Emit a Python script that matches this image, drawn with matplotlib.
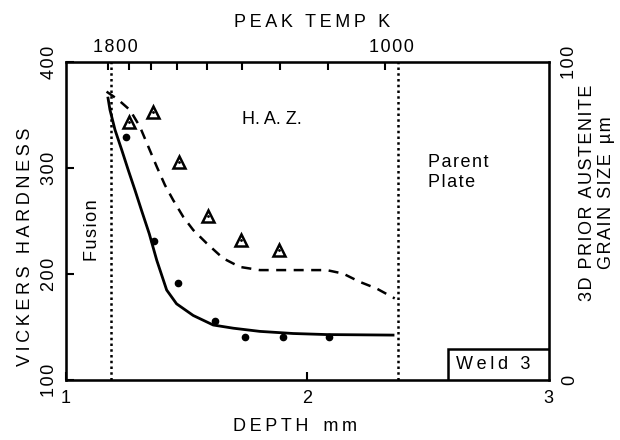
import numpy as np
import matplotlib.pyplot as plt
import matplotlib.transforms as mtransforms

plt.rcParams['font.family'] = ['Liberation Sans', 'DejaVu Sans']

# hardness (left axis)
hv_depth = [1.174, 1.182, 1.203, 1.231, 1.258, 1.286, 1.313, 1.345, 1.376, 1.417,
            1.458, 1.527, 1.610, 1.693, 1.803, 1.941, 2.080, 2.355]
hv_curve = [366, 355, 336, 317, 298, 279, 260, 238, 213, 185,
            172, 161, 152, 149, 146, 144, 143, 142.5]
hv_pts_depth = [1.247, 1.364, 1.462, 1.617, 1.741, 1.897, 2.09]
hv_pts = [329, 231, 192, 156, 141, 141, 141]

# grain size (right axis)
gs_depth = [1.168, 1.217, 1.265, 1.306, 1.341, 1.376, 1.410, 1.444, 1.486, 1.527,
            1.583, 1.651, 1.720, 1.803, 1.941, 2.080, 2.148, 2.217, 2.287, 2.362]
gs_curve = [90.7, 88.1, 84.9, 79.7, 73.4, 67.1, 61.3, 56.6, 51.3, 47.2,
            43.0, 38.3, 35.6, 34.6, 34.6, 34.6, 33.5, 30.9, 28.8, 25.7]
gs_pts_depth = [1.262, 1.362, 1.469, 1.589, 1.723, 1.883]
gs_pts = [81.3, 84.3, 68.7, 51.6, 44.2, 41.0]

# peak temperature scale (top axis)
temp_ticks = [1.174, 1.261, 1.352, 1.460, 1.584, 1.729, 1.886, 2.085, 2.321]
temp_labels = ['1800', '', '', '', '', '', '', '', '1000']

fusion_depth = 1.186
parent_depth = 2.375


def sp(s, gap='\u2009'):
    return gap.join(s)


def hs(s):
    return '\u200a'.join(s)


FS = 13
fig = plt.figure(figsize=(6.2, 4.4), dpi=100)
ax = fig.add_axes([0.1065, 0.136, 0.7785, 0.723])

ax.plot(hv_depth, hv_curve, color='black', lw=2.0)
ax.plot(hv_pts_depth, hv_pts, 'o', color='black', ms=4.5)
for d in (fusion_depth, parent_depth):
    ax.axvline(d, color='black', ls=(0, (1, 1.3)), lw=1.8)

ax.set_xlim(1, 3)
ax.set_ylim(100, 400)
ax.set_xticks([1, 2, 3])
ax.set_xticklabels(['1', '2', '3'])
ax.set_yticks([100, 200, 300, 400])
ax.set_yticklabels([hs(t) for t in ['100', '200', '300', '400']], rotation=90, va='center')
ax.tick_params(axis='x', direction='in', length=6, width=1.5, labelsize=FS, pad=7)
ax.tick_params(axis='y', direction='in', length=6, width=1.5, labelsize=FS, pad=6)
for s in ax.spines.values():
    s.set_linewidth(1.8)
ax.set_xlabel(sp('DEPTH') + '   ' + sp('mm'), fontsize=FS)
ax.xaxis.set_label_coords(0.475, -0.12)
ax.set_ylabel(sp('VICKERS HARDNESS'), fontsize=FS)
ax.yaxis.set_label_coords(-0.066, 0.42)

ax2 = ax.twinx()
ax2.plot(gs_depth, gs_curve, color='black', ls=(0, (4, 3)), lw=1.8)
ax2.plot(gs_pts_depth, gs_pts, '^', mfc='white', mec='black', mew=1.8, ms=9)
ax2.plot(gs_pts_depth, gs_pts, '.', color='black', ms=2)
ax2.set_ylim(0, 100)
ax2.set_yticks([0, 100])
ax2.set_yticklabels(['0', hs('100')], rotation=90, va='center')
ax2.tick_params(length=0, labelsize=FS, pad=9)
ax2.set_ylabel(hs('3D PRIOR AUSTENITE') + '\n' + hs('GRAIN SIZE') + '  ' + hs('µm'),
               fontsize=FS, linespacing=1.15)
ax2.yaxis.set_label_coords(1.062, 0.59)

ax3 = ax.twiny()
ax3.set_xlim(1, 3)
ax3.set_xticks(temp_ticks)
ax3.set_xticklabels([hs(t) for t in temp_labels])
ax3.tick_params(direction='in', length=6, width=1.5, labelsize=FS, pad=4)
shift = mtransforms.ScaledTranslation(7 / 100, 0, fig.dpi_scale_trans)
for lab in ax3.get_xticklabels():
    lab.set_transform(lab.get_transform() + shift)
ax3.set_xlabel(sp('PEAK TEMP K'), fontsize=FS)
ax3.xaxis.set_label_coords(0.51, 1.11)

ax.text(1.108, 241, hs('Fusion'), rotation=90, fontsize=FS, ha='center', va='center')
ax.text(1.853, 346, 'H. A. Z.', fontsize=FS, ha='center', va='center')
ax.text(2.499, 305, hs('Parent'), fontsize=FS, ha='left', va='center')
ax.text(2.499, 286, hs('Plate'), fontsize=FS, ha='left', va='center')

ax.add_patch(plt.Rectangle((0.791, 0), 0.209, 0.097, transform=ax.transAxes,
                           fc='white', ec='black', lw=1.8, zorder=3))
ax.text(0.885, 0.05, sp('Weld 3'), transform=ax.transAxes, fontsize=FS,
        ha='center', va='center', zorder=4)

fig.savefig('out.png', dpi=100)
